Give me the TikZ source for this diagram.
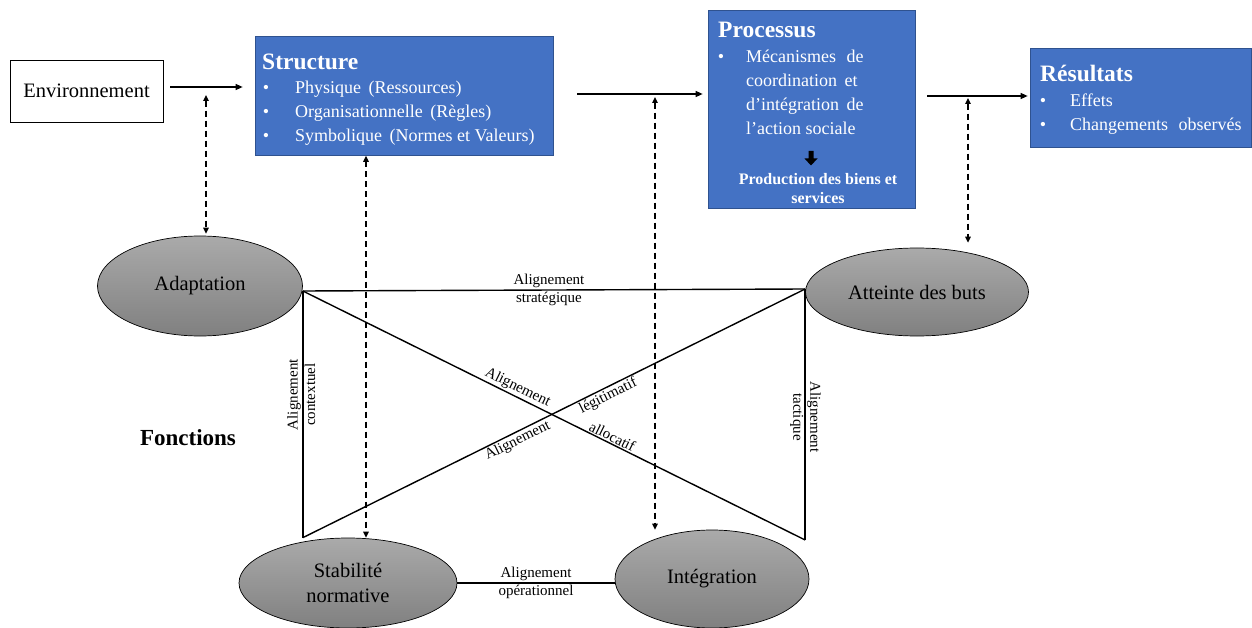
\documentclass[tikz,border=0pt]{standalone}
\usepackage{fontspec}
\setmainfont{Liberation Serif}
\usetikzlibrary{arrows.meta,shapes.geometric}

\definecolor{boxblue}{HTML}{4472C4}
\definecolor{boxedge}{HTML}{2F528F}
\definecolor{ellTop}{RGB}{170,170,170}
\definecolor{ellBot}{RGB}{128,128,128}

\begin{document}
\begin{tikzpicture}[x=1pt,y=-1pt,
  bluebox/.style={rectangle, draw=boxedge, line width=0.7pt, fill=boxblue, inner sep=0pt},
  whitebox/.style={rectangle, draw=black, line width=0.8pt, fill=white, inner sep=0pt,
    font=\fontsize{20.5}{25}\selectfont},
  oval/.style={ellipse, draw=black, line width=0.7pt, top color=ellTop, bottom color=ellBot,
    inner sep=0pt, align=center, font=\fontsize{20.5}{25}\selectfont},
  boxtitle/.style={anchor=base west, inner sep=0pt, text=white, font=\fontsize{23.5}{28}\selectfont\bfseries},
  boxitem/.style={anchor=base west, inner sep=0pt, text=white, font=\fontsize{18}{24}\selectfont},
  boxbullet/.style={anchor=base, inner sep=0pt, text=white, font=\fontsize{18}{24}\selectfont},
  boxnote/.style={anchor=base, inner sep=0pt, text=white, font=\fontsize{16}{20}\selectfont\bfseries},
  flow/.style={line width=1.3pt, -{Triangle[length=7pt,width=6pt]}},
  dbl/.style={line width=1.4pt, dash pattern=on 6pt off 4pt,
    {Triangle[length=6pt,width=5.5pt]}-{Triangle[length=6pt,width=5.5pt]}},
  link/.style={line width=1.4pt},
  lbl/.style={inner sep=1.2pt, font=\fontsize{15}{18}\selectfont}
]
\useasboundingbox[fill=white] (0,0) rectangle (1252,628);

% ---- top row: environment and the three blue boxes
\node[whitebox, minimum width=153pt, minimum height=62pt] (env) at (86.5,91) {Environnement};

\node[bluebox, minimum width=298pt, minimum height=119pt] (struct) at (404,96) {};
\node[boxtitle] (structT) at (262,70) {Structure};
\node[boxbullet] (sb1) at (266,94) {\textbullet};
\node[boxbullet] (sb2) at (266,118) {\textbullet};
\node[boxbullet] (sb3) at (266,142) {\textbullet};
\node[boxitem] (s1) at (295,94) {Physique\, (Ressources)};
\node[boxitem] (s2) at (295,118) {Organisationnelle\, (Règles)};
\node[boxitem] (s3) at (295,142) {Symbolique\, (Normes et Valeurs)};

\node[bluebox, minimum width=207pt, minimum height=198pt] (proc) at (811.5,109) {};
\node[boxtitle] (procT) at (718,38) {Processus};
\node[boxbullet] (pb1) at (721,63) {\textbullet};
\node[boxitem] (p1) at (746,63) {Mécanismes\,\, de};
\node[boxitem] (p2) at (746,87) {coordination\, et};
\node[boxitem] (p3) at (746,111) {d’intégration\, de};
\node[boxitem] (p4) at (746,135) {l’action sociale};
\fill (808.5,151) -- (813.5,151) -- (813.5,158.5) -- (817.5,158.5) -- (811,165.5)
      -- (804.5,158.5) -- (808.5,158.5) -- cycle;
\node[boxnote] (pn1) at (818,185) {Production des biens et};
\node[boxnote] (pn2) at (818,204) {services};

\node[bluebox, minimum width=221pt, minimum height=99pt] (res) at (1140.5,97.5) {};
\node[boxtitle] (resT) at (1040,82) {Résultats};
\node[boxbullet] (rb1) at (1043,107) {\textbullet};
\node[boxbullet] (rb2) at (1043,131) {\textbullet};
\node[boxitem] (r1) at (1070,107) {Effets};
\node[boxitem] (r2) at (1070,131) {Changements\,\, observés};

% ---- flow arrows along the top row
\draw[flow, shorten <=7pt, shorten >=12pt] (env.east |- 0,87) -- (struct.west |- 0,87);
\draw[flow, shorten <=24pt, shorten >=5pt] (struct.east |- 0,94) -- (proc.west |- 0,94);
\draw[flow, shorten <=12pt, shorten >=2pt] (proc.east |- 0,96) -- (res.west |- 0,96);

% ---- the four functions
\node[oval, minimum width=205pt, minimum height=100pt] (adapt) at (200,286) {Adaptation};
\node[oval, minimum width=223pt, minimum height=88pt] (goal) at (917,292) {Atteinte des buts};
\node[oval, minimum width=218pt, minimum height=90pt] (stab) at (348,583) {Stabilité\\[0pt]normative};
\node[oval, minimum width=194pt, minimum height=98pt] (integ) at (712,579) {Intégration};

\node[inner sep=0pt, font=\fontsize{23}{28}\selectfont\bfseries] (fonc) at (188,438) {Fonctions};

% ---- junction points of the alignment links
\coordinate (aR) at ([yshift=-5pt]adapt.east);
\coordinate (gL) at ([yshift=3pt]goal.west);
\coordinate (sTL) at (aR |- stab.north);
\coordinate (iTR) at (gL |- 0,540);

% ---- alignment links
\draw[link] (aR) -- (gL)
  node[lbl, pos=0.49, above] (l1a) {Alignement}
  node[lbl, pos=0.49, below] (l1b) {stratégique};
\draw[link] (sTL) -- (aR)
  node[lbl, pos=0.58, sloped, above] (l2a) {Alignement}
  node[lbl, pos=0.58, sloped, below] (l2b) {contextuel};
\draw[link] (gL) -- (iTR)
  node[lbl, pos=0.51, sloped, above] (l3a) {Alignement}
  node[lbl, pos=0.51, sloped, below] (l3b) {tactique};
\draw[link] (aR) -- (iTR)
  node[lbl, pos=0.42, sloped, above] (l4a) {Alignement}
  node[lbl, pos=0.61, sloped, above] (l4b) {allocatif};
\draw[link] (sTL) -- (gL)
  node[lbl, pos=0.42, sloped, below] (l5a) {Alignement}
  node[lbl, pos=0.60, sloped, below] (l5b) {légitimatif};
\draw[link] (stab.east) -- (stab.east -| integ.west)
  node[lbl, midway, above] (l6a) {Alignement}
  node[lbl, midway, below] (l6b) {opérationnel};

% ---- dashed two-way links between the top row and the functions
\coordinate (d1) at (206,95);
\coordinate (d3) at (655,97);
\coordinate (d4) at (968,98);
\draw[dbl, shorten >=2pt] (d1) -- (d1 |- adapt.north);
\draw[dbl] (366,0 |- struct.south) -- (366,0 |- stab.north);
\draw[dbl] (d3) -- (d3 |- integ.north);
\draw[dbl, shorten >=5pt] (d4) -- (d4 |- goal.north);
\end{tikzpicture}
\end{document}
